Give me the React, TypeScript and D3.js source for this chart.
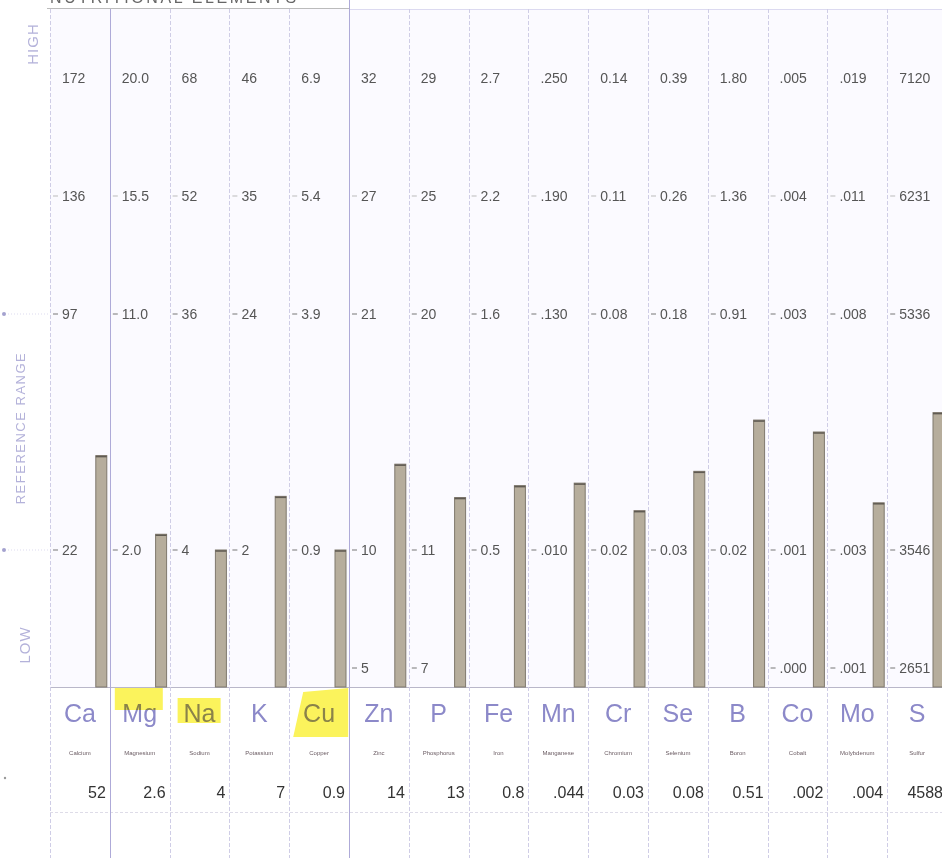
import { useEffect, useRef } from "react";
import * as d3 from "d3";

// elements, in report order
const symbols = ["Ca", "Mg", "Na", "K", "Cu", "Zn", "P", "Fe", "Mn", "Cr", "Se", "B", "Co", "Mo", "S"];
const names = ["Calcium", "Magnesium", "Sodium", "Potassium", "Copper", "Zinc", "Phosphorus", "Iron", "Manganese", "Chromium", "Selenium", "Boron", "Cobalt", "Molybdenum", "Sulfur"];

// reference scale labels per column (top row down)
const highLabels = ["172", "20.0", "68", "46", "6.9", "32", "29", "2.7", ".250", "0.14", "0.39", "1.80", ".005", ".019", "7120"];
const upperLabels = ["136", "15.5", "52", "35", "5.4", "27", "25", "2.2", ".190", "0.11", "0.26", "1.36", ".004", ".011", "6231"];
const midLabels = ["97", "11.0", "36", "24", "3.9", "21", "20", "1.6", ".130", "0.08", "0.18", "0.91", ".003", ".008", "5336"];
const lowLabels = ["22", "2.0", "4", "2", "0.9", "10", "11", "0.5", ".010", "0.02", "0.03", "0.02", ".001", ".003", "3546"];
const floorLabels = ["", "", "", "", "", "5", "7", "", "", "", "", "", ".000", ".001", "2651"];

// measured results
const results = [52, 2.6, 4, 7, 0.9, 14, 13, 0.8, 0.044, 0.03, 0.08, 0.51, 0.002, 0.004, 4588];
const resultLabels = ["52", "2.6", "4", "7", "0.9", "14", "13", "0.8", ".044", "0.03", "0.08", "0.51", ".002", ".004", "4588"];

export default function App() {
  const ref = useRef<SVGSVGElement>(null);

  useEffect(() => {
    if (!ref.current) return;
    const svg = d3.select(ref.current);
    svg.selectAll("*").remove();

    const width = 942;
    const height = 858;
    const baseline = 687;
    const lavender = "#8c89c9";

    const x = d3.scaleBand<string>().domain(symbols).range([50, 947]);
    const bw = x.bandwidth();
    // row positions: 0 = high, 1 = upper, 2 = mid, 4 = low, 5 = floor
    const level = d3.scaleLinear().domain([0, 5]).range([78, 668]);

    // chart background
    svg.append("rect").attr("x", 0).attr("y", 0).attr("width", width).attr("height", height).attr("fill", "#fff");
    svg.append("rect").attr("x", 50).attr("y", 9).attr("width", width - 50).attr("height", baseline - 9).attr("fill", "#fbfaff");

    // title, cut off at top
    svg.append("text")
      .attr("x", 50).attr("y", 3)
      .attr("font-size", 16).attr("letter-spacing", 2.6)
      .attr("fill", "#666")
      .text("NUTRITIONAL ELEMENTS");
    svg.append("line").attr("x1", 47).attr("x2", 349).attr("y1", 8.5).attr("y2", 8.5).attr("stroke", "#bbb");
    svg.append("line").attr("x1", 349).attr("x2", width).attr("y1", 9.5).attr("y2", 9.5).attr("stroke", "#dcdaf0");

    // horizontal rules
    svg.append("line").attr("x1", 50).attr("x2", width).attr("y1", baseline + 0.5).attr("y2", baseline + 0.5).attr("stroke", "#b9b7c9");
    svg.append("line").attr("x1", 50).attr("x2", width).attr("y1", 812.5).attr("y2", 812.5)
      .attr("stroke", "#dedce8").attr("stroke-dasharray", "3 2");

    // column separators
    const seps = [50, ...symbols.map(s => (x(s) as number) + bw)];
    svg.append("g").selectAll("line").data(seps).join("line")
      .attr("x1", d => Math.round(d) + 0.5).attr("x2", d => Math.round(d) + 0.5)
      .attr("y1", (d, i) => (i === 5 ? 0 : 9)).attr("y2", height)
      .attr("stroke", (d, i) => (i === 1 || i === 5 ? "#aeaad8" : "#cfcde6"))
      .attr("stroke-dasharray", (d, i) => (i === 1 || i === 5 ? null : "4 2"));

    // left side labels
    const side = svg.append("g").attr("fill", "#b4b2da").attr("text-anchor", "middle");
    side.append("text").attr("transform", "translate(38,44) rotate(-90)").attr("font-size", 15).attr("letter-spacing", 1).text("HIGH");
    side.append("text").attr("transform", "translate(25,428) rotate(-90)").attr("font-size", 13).attr("letter-spacing", 1.5).text("REFERENCE RANGE");
    side.append("text").attr("transform", "translate(30,645) rotate(-90)").attr("font-size", 15).attr("letter-spacing", 1).text("LOW");
    [2, 4].forEach(k => {
      svg.append("circle").attr("cx", 4).attr("cy", level(k)).attr("r", 2).attr("fill", "#a4a2cf");
      svg.append("line").attr("x1", 8).attr("x2", 50).attr("y1", level(k)).attr("y2", level(k))
        .attr("stroke", "#dddbef").attr("stroke-dasharray", "1 2");
    });
    svg.append("circle").attr("cx", 5).attr("cy", 778).attr("r", 1.2).attr("fill", "#999");

    // highlights behind element symbols
    const hl = svg.append("g").attr("fill", "#fbf35c");
    const xMg = x("Mg") as number;
    const xNa = x("Na") as number;
    const xCu = x("Cu") as number;
    hl.append("rect").attr("x", xMg + 5).attr("y", 688).attr("width", 48).attr("height", 22);
    hl.append("rect").attr("x", xNa + 8).attr("y", 698).attr("width", 43).attr("height", 25);
    hl.append("polygon").attr("points", [
      [xCu + 14, 692], [xCu + 59, 688], [xCu + 59, 737], [xCu + 4, 737]
    ].map(p => p.join(",")).join(" "));

    // per column
    symbols.forEach((s, i) => {
      const x0 = x(s) as number;
      const g = svg.append("g");
      const y = d3.scaleLinear()
        .domain([+lowLabels[i], +midLabels[i], +upperLabels[i], +highLabels[i]])
        .range([level(4), level(2), level(1), level(0)]);

      const rows: [string, number, boolean][] = [
        [highLabels[i], 0, false],
        [upperLabels[i], 1, true],
        [midLabels[i], 2, true],
        [lowLabels[i], 4, true],
        [floorLabels[i], 5, true],
      ];
      rows.filter(r => r[0] !== "").forEach(([t, k, tick]) => {
        if (tick) {
          g.append("line").attr("x1", x0 + 3).attr("x2", x0 + 8)
            .attr("y1", level(k)).attr("y2", level(k))
            .attr("stroke", k === 1 ? "#bbb" : "#777");
        }
        g.append("text").attr("x", x0 + 12).attr("y", level(k)).attr("dy", "0.36em")
          .attr("font-size", 14).attr("fill", "#555").text(t);
      });

      // result bar
      const top = y(results[i]);
      g.append("rect")
        .attr("x", x0 + bw - 14).attr("y", top)
        .attr("width", 11).attr("height", baseline - top)
        .attr("fill", "#b6ad9c").attr("stroke", "#7f786d").attr("stroke-width", 1);
      g.append("line").attr("x1", x0 + bw - 14).attr("x2", x0 + bw - 3)
        .attr("y1", top + 1).attr("y2", top + 1).attr("stroke", "#5f5a52").attr("stroke-width", 1.5);

      // symbol, name, result
      g.append("text").attr("x", x0 + bw / 2).attr("y", 722)
        .attr("text-anchor", "middle").attr("font-size", 25).attr("fill", lavender)
        .style("mix-blend-mode", "multiply").text(s);
      g.append("text").attr("x", x0 + bw / 2).attr("y", 755)
        .attr("text-anchor", "middle").attr("font-size", 6).attr("fill", "#6a5b62").text(names[i]);
      g.append("text").attr("x", x0 + bw - 4).attr("y", 798)
        .attr("text-anchor", "end").attr("font-size", 16).attr("fill", "#333").text(resultLabels[i]);
    });
  }, []);

  return (
    <div style={{ position: "absolute", left: 0, top: 0 }}>
      <svg ref={ref} width={942} height={858} style={{ display: "block", fontFamily: "'Liberation Sans', Arial, sans-serif" }} />
    </div>
  );
}
